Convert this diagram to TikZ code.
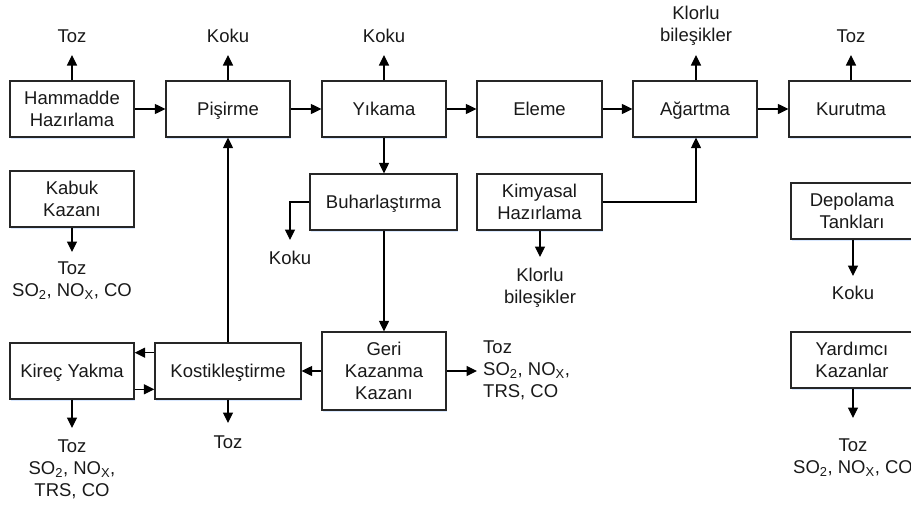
\documentclass[tikz,border=0pt]{standalone}
\usepackage{fontspec}
\setmainfont{Liberation Sans}
\usetikzlibrary{arrows.meta,calc,shadows}
\begin{document}
\begin{tikzpicture}[x=1pt,y=-1pt,
  font=\fontsize{18.5}{22}\selectfont, text=black!90,
  box/.style={draw=black!85, line width=1.2pt, minimum width=124pt, minimum height=56pt,
    inner sep=2pt, align=center, fill=white,
    drop shadow={shadow xshift=0.5pt, shadow yshift=-1.5pt, opacity=0.15, fill=blue!60!cyan}},
  one/.style={text height=13pt, text depth=0.5pt},
  lab/.style={inner sep=0pt, align=center},
  arr/.style={draw=black, line width=1.2pt, -{Triangle[length=10.5pt,width=10pt]}}]
\useasboundingbox (0,0) rectangle (911,506);
\clip (0,0) rectangle (911,506);
% process boxes
\node[box] (ham) at (72,109) {Hammadde\\Hazırlama};
\node[box, one] (pis) at (228,109) {Pişirme};
\node[box, one] (yik) at (384,109) {Yıkama};
\node[box, one, minimum width=125pt] (ele) at (539.5,109) {Eleme};
\node[box, one] (aga) at (695,109) {Ağartma};
\node[box, one] (kur) at (851,109) {Kurutma};
\node[box] (kab) at (72,199) {Kabuk\\Kazanı};
\node[box, one, minimum width=147pt] (buh) at (383.5,202) {Buharlaştırma};
\node[box, minimum width=125pt] (kim) at (539.5,202) {Kimyasal\\Hazırlama};
\node[box, minimum width=122pt] (dep) at (852,211) {Depolama\\Tankları};
\node[box, minimum width=122pt] (yar) at (852,360) {Yardımcı\\Kazanlar};
\node[box, one] (kir) at (72,371) {Kireç Yakma};
\node[box, one, minimum width=146pt] (kos) at (228,371) {Kostikleştirme};
\node[box, minimum height=78pt] (ger) at (384,371) {Geri\\Kazanma\\Kazanı};
% emission labels
\node[lab] (l1) at (72,36) {Toz};
\node[lab] (l2) at (228,36) {Koku};
\node[lab] (l3) at (384,36) {Koku};
\node[lab] (l4) at (696,26) {Klorlu\\bileşikler};
\node[lab] (l5) at (851,36) {Toz};
\node[lab] (l6) at (72,281) {Toz\\SO\textsubscript{2}, NO\textsubscript{X}, CO};
\node[lab] (l7) at (290,258) {Koku};
\node[lab] (l8) at (540,288) {Klorlu\\bileşikler};
\node[lab] (l9) at (853,293) {Koku};
\node[lab] (l10) at (853,458) {Toz\\SO\textsubscript{2}, NO\textsubscript{X}, CO};
\node[lab] (l11) at (72,469) {Toz\\SO\textsubscript{2}, NO\textsubscript{X},\\TRS, CO};
\node[lab] (l12) at (228,442) {Toz};
\node[lab, anchor=west, align=left] (l13) at (483,370) {Toz\\SO\textsubscript{2}, NO\textsubscript{X},\\TRS, CO};
% arrow tips
\coordinate (t1) at (72,55);
\coordinate (t2) at (228,55);
\coordinate (t3) at (384,55);
\coordinate (t4) at (696,55);
\coordinate (t5) at (851,55);
\coordinate (t6) at (72,252);
\coordinate (t7) at (290,240);
\coordinate (t8) at (540,257);
\coordinate (t9) at (853,276);
\coordinate (t10) at (853,418);
\coordinate (t11) at (72,428);
\coordinate (t12) at (228,423);
\coordinate (t13) at (477,371);
% main line
\draw[arr] (ham) -- (pis);
\draw[arr] (pis) -- (yik);
\draw[arr] (yik) -- (ele);
\draw[arr] (ele) -- (aga);
\draw[arr] (aga) -- (kur);
% emissions
\draw[arr] (ham) -- (t1);
\draw[arr] (pis) -- (t2);
\draw[arr] (yik) -- (t3);
\draw[arr] (aga.north -| t4) -- (t4);
\draw[arr] (kur.north -| t5) -- (t5);
\draw[arr] (kab) -- (t6);
\draw[arr] (buh.west) -| (t7);
\draw[arr] (kim.south -| t8) -- (t8);
\draw[arr] (dep.south -| t9) -- (t9);
\draw[arr] (yar.south -| t10) -- (t10);
\draw[arr] (kir) -- (t11);
\draw[arr] (kos) -- (t12);
\draw[arr] (ger) -- (t13);
% internal flows
\draw[arr] (yik.south) -- (yik.south |- buh.north);
\draw[arr] (yik.south |- buh.south) -- (yik.south |- ger.north);
\draw[arr] (kim.east) -| (aga.south -| t4);
\draw[arr] (kos.north) -- (pis.south);
\draw[arr] (ger) -- (kos);
\draw[arr] ($(kos.north west)!0.18!(kos.south west)$) -- ($(kir.north east)!0.18!(kir.south east)$);
\draw[arr] ($(kir.north east)!0.82!(kir.south east)$) -- ($(kos.north west)!0.82!(kos.south west)$);
\end{tikzpicture}
\end{document}
